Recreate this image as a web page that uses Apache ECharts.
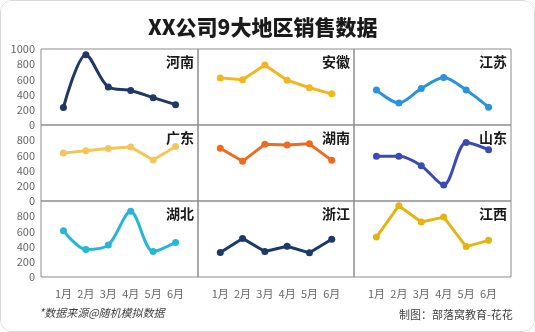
<!DOCTYPE html>
<html><head><meta charset="utf-8">
<script src="https://cdn.jsdelivr.net/npm/echarts@6/dist/echarts.min.js"></script>
<style>
html,body{margin:0;padding:0;background:#fff;}
#wrap{position:absolute;left:0;top:0;width:533px;height:330px;border:1px solid #d9d9d9;border-radius:12px;overflow:hidden;background:#fff;}
#c{width:533px;height:330px;}
</style></head>
<body><div id="wrap"><div id="c"></div></div>
<script>
const months = ['1月','2月','3月','4月','5月','6月'];
const yTicks = [0,200,400,600,800,1000];
const regions = ['河南','安徽','江苏','广东','湖南','山东','湖北','浙江','江西'];
const henan    = [230, 925, 500, 455, 360, 268];
const anhui    = [620, 595, 790, 590, 490, 410];
const jiangsu  = [460, 290, 480, 625, 460, 235];
const guangdong= [630, 660, 690, 712, 540, 718];
const hunan    = [695, 522, 748, 736, 752, 535];
const shandong = [588, 588, 465, 210, 770, 675];
const hubei    = [607, 362, 420, 865, 336, 455];
const zhejiang = [322, 508, 335, 405, 318, 496];
const jiangxi  = [526, 938, 724, 788, 400, 482];
const seriesValues = [henan, anhui, jiangsu, guangdong, hunan, shandong, hubei, zhejiang, jiangxi];
const colors = ['#1f3864','#f4b620','#2a93de','#f2c75a','#ed6b1e','#3a4bb5','#29b6d6','#1b3a6a','#e4b414'];
const smoothFlags = [true,false,true,false,false,true,true,false,false];

const colLeft = [40, 197, 353];
const colW = [157, 156, 157];
const rowTop = [48, 124, 200];
const rowH = 76;

const chart = echarts.init(document.getElementById('c'), null, {renderer:'canvas'});
const grids=[], xAxes=[], yAxes=[], series=[], graphics=[];
for (let i=0;i<9;i++){
  const r=Math.floor(i/3), c=i%3;
  grids.push({left:colLeft[c], top:rowTop[r], width:colW[c], height:rowH, show:true, borderColor:'#8c8c8c', borderWidth:1, backgroundColor:'transparent'});
  xAxes.push({type:'value', gridIndex:i, min:0, max:7, interval:1,
    axisLine:{show:false}, axisTick:{show:false}, splitLine:{show:false},
    axisLabel:{show:r===2, color:'#666', fontSize:11, margin:11, fontFamily:'Noto Sans CJK SC',
      formatter:v=> (v>=1&&v<=6)? months[v-1] : ''}});
  yAxes.push({type:'value', gridIndex:i, min:yTicks[0], max:yTicks[yTicks.length-1], interval:200,
    axisLine:{show:false}, axisTick:{show:false}, splitLine:{show:false},
    axisLabel:{show:c===0, color:'#666', fontSize:11, margin:6, fontFamily:'Noto Sans CJK SC',
      formatter:v=> (r>0 && v===1000)? '' : String(v)}});
  series.push({type:'line', xAxisIndex:i, yAxisIndex:i, smooth:smoothFlags[i]?0.3:false,
    data: seriesValues[i].map((v,k)=>[k+1,v]),
    symbol:'circle', symbolSize:7, showSymbol:true,
    lineStyle:{color:colors[i], width:3}, itemStyle:{color:colors[i]}, z:3});
  graphics.push({type:'text', right: 533-(colLeft[c]+colW[c])+4, top: rowTop[r]+6,
    style:{text:regions[i], font:'bold 14px "Noto Sans CJK SC"', fill:'#1a1a1a'}});
}
graphics.push({type:'text', left:147, top:16, style:{text:'XX公司9大地区销售数据', font:'900 21px "Noto Sans CJK SC"', fill:'#1a1a1a'}});
graphics.push({type:'text', left:38, top:306, style:{text:'*数据来源@随机模拟数据', font:'italic 11px "Noto Sans CJK SC"', fill:'#404040'}});
graphics.push({type:'text', left:398, top:308, style:{text:'制图：部落窝教育-花花', font:'11px "Noto Sans CJK SC"', fill:'#404040'}});

chart.setOption({animation:false, backgroundColor:'#fff', grid:grids, xAxis:xAxes, yAxis:yAxes, series:series, graphic:graphics});
</script></body></html>
